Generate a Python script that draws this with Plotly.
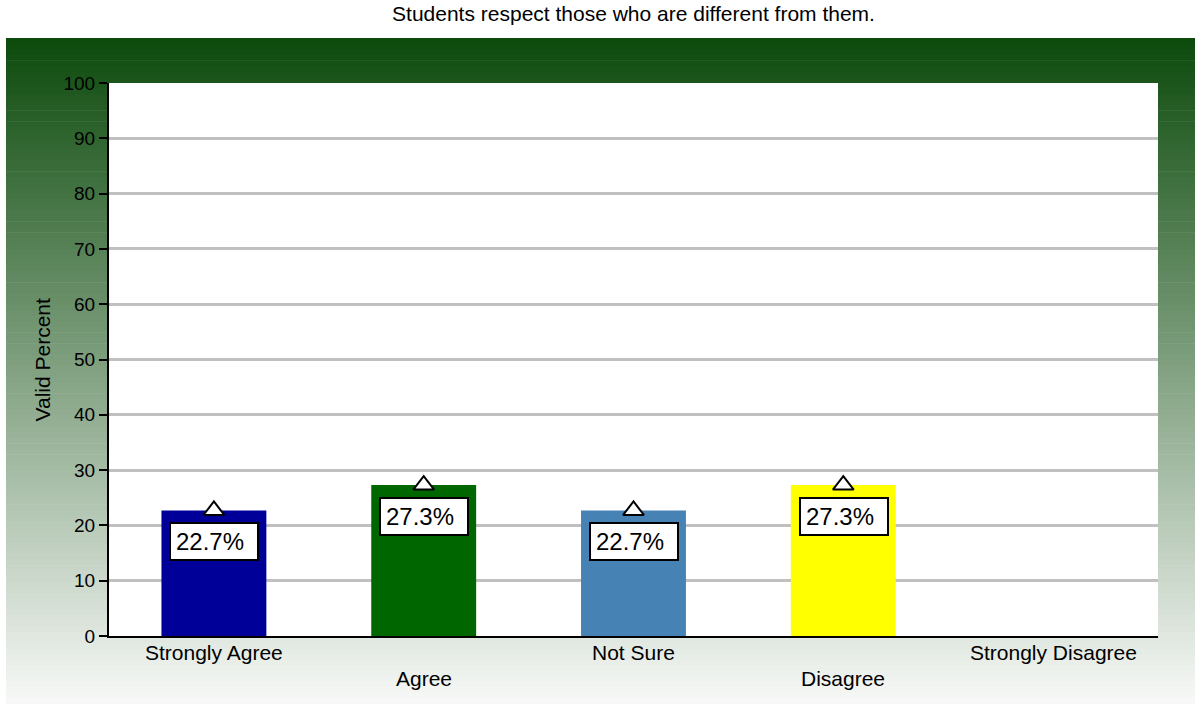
import plotly.graph_objects as go

title = "Students respect those who are different from them."
categories = ["Strongly Agree", "Agree", "Not Sure", "Disagree", "Strongly Disagree"]
values = [22.7, 27.3, 22.7, 27.3, 0.0]
colors = ["#000099", "#006600", "#4682B4", "#FFFF00", "#FF0000"]
y_ticks = [0, 10, 20, 30, 40, 50, 60, 70, 80, 90, 100]
y_title = "Valid Percent"

FONT = "Liberation Sans, Arial, Helvetica, sans-serif"
W, H = 1201, 705
L, R, T, B = 109, 43, 83, 69
pw, ph = W - L - R, H - T - B

def px_x(x):
    return (x - L) / pw

def px_y(y):
    return (H - B - y) / ph

xs = list(range(len(categories)))

fig = go.Figure()
fig.add_trace(go.Bar(x=xs, y=values, width=0.5, marker=dict(color=colors, line=dict(width=0)),
                     hoverinfo="skip", showlegend=False))

sx = [x for x, v in zip(xs, values) if v > 0]
sy = [v for v in values if v > 0]
fig.add_trace(go.Scatter(x=sx, y=sy, mode="markers", showlegend=False, hoverinfo="skip",
                         marker=dict(symbol="triangle-up", size=18, color="white",
                                     line=dict(color="black", width=2))))

shapes = []
# gradient background
x0, x1 = px_x(6), px_x(1195)
top, bot = 38, 704
N = 120
c_top = (12, 74, 12)
c_bot = (248, 249, 248)
for i in range(N):
    ya = top + (bot - top) * i / N
    yb = top + (bot - top) * (i + 1) / N + 0.6
    t = (i + 0.5) / N
    c = tuple(round(c_top[k] + (c_bot[k] - c_top[k]) * t) for k in range(3))
    shapes.append(dict(type="rect", xref="paper", yref="paper", layer="below",
                       x0=x0, x1=x1, y0=px_y(min(yb, bot)), y1=px_y(ya),
                       fillcolor="rgb(%d,%d,%d)" % c, line=dict(width=0)))
shapes.append(dict(type="rect", xref="paper", yref="paper", layer="below",
                   x0=0, x1=1, y0=0, y1=1, fillcolor="white", line=dict(width=0)))

annotations = []
for x, v in zip(xs, values):
    if v <= 0:
        continue
    annotations.append(dict(x=x - 0.25, y=v, xref="x", yref="y", xanchor="left", yanchor="top",
                            xshift=8, yshift=-12, text="%.1f%%" % v, showarrow=False,
                            align="left", width=76, height=25, valign="middle",
                            bgcolor="white", bordercolor="black", borderwidth=2, borderpad=5,
                            font=dict(size=24, color="black", family=FONT)))
for i, (x, c) in enumerate(zip(xs, categories)):
    annotations.append(dict(x=x, y=0, xref="x", yref="paper", xanchor="center", yanchor="top",
                            yshift=-3 if i % 2 == 0 else -29, text=c, showarrow=False,
                            font=dict(size=21, color="black", family=FONT)))
annotations.append(dict(x=px_x(42), y=0.5, xref="paper", yref="paper", xanchor="center",
                        yanchor="middle", textangle=-90, text=y_title, showarrow=False,
                        font=dict(size=21, color="black", family=FONT)))

fig.update_layout(
    width=W, height=H,
    margin=dict(l=L, r=R, t=T, b=B),
    paper_bgcolor="white",
    plot_bgcolor="rgba(0,0,0,0)",
    font=dict(family=FONT, color="black", size=19),
    title=dict(text=title, x=0.5, xref="paper", xanchor="center", y=1 - 14 / H, yanchor="middle",
               font=dict(size=21, color="black")),
    shapes=shapes,
    annotations=annotations,
)
fig.update_xaxes(range=[-0.5, len(categories) - 0.5], showticklabels=False, showgrid=False,
                 zeroline=False, showline=True, linecolor="black", linewidth=2, ticks="",
                 fixedrange=True)
fig.update_yaxes(range=[0, 100], tickvals=y_ticks, showgrid=True, gridcolor="#C0C0C0", gridwidth=3,
                 zeroline=False, showline=True, linecolor="black", linewidth=2,
                 ticks="outside", ticklen=8, tickwidth=2, tickcolor="black",
                 tickfont=dict(size=19), fixedrange=True)

fig.write_html("out.html", config={"displayModeBar": False},
               post_script="document.body.style.margin='0';document.body.style.overflow='hidden';")
